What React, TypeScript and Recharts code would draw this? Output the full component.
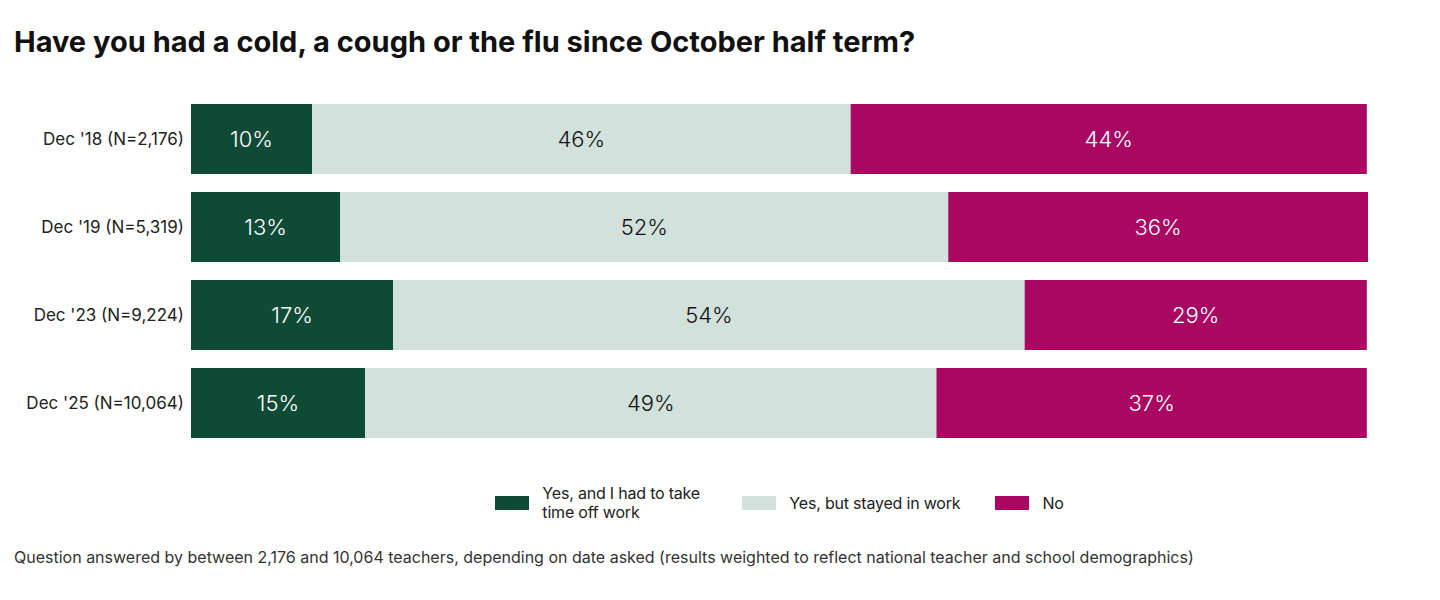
import { Bar, BarChart, LabelList, XAxis, YAxis } from 'recharts';

const CATEGORIES = [
  "Dec '18 (N=2,176)",
  "Dec '19 (N=5,319)",
  "Dec '23 (N=9,224)",
  "Dec '25 (N=10,064)",
];
const TOOK_TIME_OFF = [10.3, 12.7, 17.2, 14.8];
const STAYED_IN_WORK = [45.8, 51.7, 53.7, 48.6];
const NO_COLD = [43.9, 35.7, 29.1, 36.6];

const SERIES = [
  { key: 'off', name: 'Yes, and I had to take time off work', color: '#0f4a37', text: '#ffffff', maxW: 165 },
  { key: 'stayed', name: 'Yes, but stayed in work', color: '#d3e1dc', text: '#111111', maxW: 400 },
  { key: 'no', name: 'No', color: '#a80861', text: '#ffffff', maxW: 400 },
];

const data = CATEGORIES.map((c, i) => ({
  label: c,
  off: TOOK_TIME_OFF[i],
  stayed: STAYED_IN_WORK[i],
  no: NO_COLD[i],
}));

const FONT = 'Inter, "Noto Sans", sans-serif';

function ChartLegend() {
  return (
    <div
      style={{
        position: 'absolute',
        top: 484,
        left: 191,
        width: 1177,
        display: 'flex',
        justifyContent: 'center',
        alignItems: 'center',
        gap: 35,
        fontFamily: FONT,
        fontSize: 16,
        color: '#222',
        lineHeight: '19px',
        letterSpacing: -0.2,
      }}
    >
      {SERIES.map((s) => (
        <div key={s.key} style={{ display: 'flex', alignItems: 'center', gap: 13 }}>
          <span style={{ width: 34, height: 14, background: s.color, display: 'inline-block', flexShrink: 0 }} />
          <span style={{ maxWidth: s.maxW }}>{s.name}</span>
        </div>
      ))}
    </div>
  );
}

export default function App() {
  return (
    <div style={{ position: 'absolute', left: 0, top: 0, width: 1440, height: 600, background: '#fff' }}>
      <div
        style={{
          position: 'absolute',
          left: 14,
          top: 24,
          fontFamily: FONT,
          fontWeight: 700,
          fontSize: 29,
          color: '#111',
        }}
      >
        Have you had a cold, a cough or the flu since October half term?
      </div>
      <BarChart
        width={1440}
        height={600}
        data={data}
        layout="vertical"
        margin={{ top: 95, right: 72, bottom: 153, left: 0 }}
        barCategoryGap={9}
      >
        <XAxis type="number" domain={[0, 100]} hide />
        <YAxis
          type="category"
          dataKey="label"
          width={191}
          axisLine={false}
          tickLine={false}
          tickSize={0}
          tickMargin={7}
          tick={{ fontSize: 17, fill: '#222', fontFamily: FONT }}
        />
        {SERIES.map((s) => (
          <Bar key={s.key} dataKey={s.key} name={s.name} stackId="a" fill={s.color} isAnimationActive={false}>
            <LabelList
              dataKey={s.key}
              position="center"
              formatter={(v: number) => `${Math.round(v)}%`}
              style={{ fill: s.text, fontSize: 22, fontFamily: FONT, fontWeight: 300 }}
            />
          </Bar>
        ))}
      </BarChart>
      <ChartLegend />
      <div
        style={{
          position: 'absolute',
          left: 14,
          top: 547,
          fontFamily: FONT,
          fontSize: 16,
          color: '#333',
        }}
      >
        Question answered by between 2,176 and 10,064 teachers, depending on date asked (results weighted to reflect
        national teacher and school demographics)
      </div>
    </div>
  );
}
